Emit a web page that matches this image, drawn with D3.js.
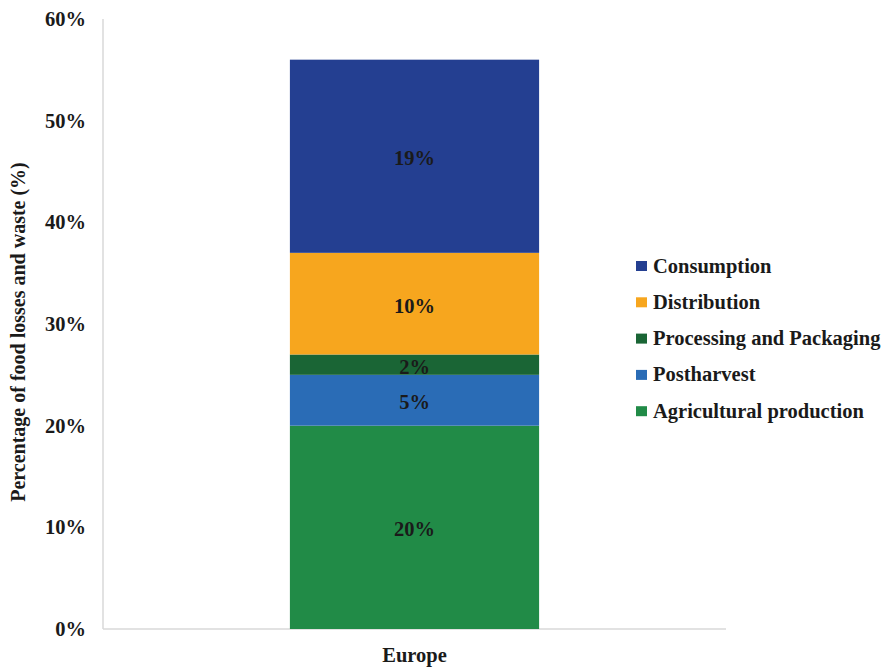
<!DOCTYPE html>
<html>
<head>
    <meta charset="UTF-8">
    <title>Food losses and waste - Europe</title>
    <style>
        body { margin: 0; background: #fff; }
        text { font-family: "Liberation Serif", "Times New Roman", serif; font-weight: bold; }
    </style>
</head>
<body>
    <script src="https://d3js.org/d3.v7.min.js"></script>
    <div id="chart"></div>

    <script type="text/javascript">
        const categories = ["Europe"];
        const stages = ["Agricultural production", "Postharvest", "Processing and Packaging", "Distribution", "Consumption"];
        const values = [20, 5, 2, 10, 19];
        const labels = ["20%", "5%", "2%", "10%", "19%"];
        const colors = ["#218b47", "#2a6cb6", "#1a6535", "#f7a61e", "#243f91"];
        const yTicks = [0, 10, 20, 30, 40, 50, 60];

        const width = 894, height = 667;
        const margin = { left: 103, right: 168, top: 19, bottom: 38 };
        const fs = 20.5;

        const svg = d3.select("#chart").append("svg")
            .attr("width", width)
            .attr("height", height);

        const x = d3.scaleBand()
            .domain(categories)
            .range([margin.left, width - margin.right])
            .paddingInner(0.6)
            .paddingOuter(0.3);

        const y = d3.scaleLinear()
            .domain([0, 60])
            .range([height - margin.bottom, margin.top]);

        // stacked segments
        var acc = 0;
        const segs = values.map((v, i) => {
            const s = { stage: stages[i], y0: acc, y1: acc + v, label: labels[i], color: colors[i] };
            acc += v;
            return s;
        });

        // axis lines
        svg.append("line")
            .attr("x1", margin.left).attr("x2", margin.left)
            .attr("y1", y(60)).attr("y2", y(0))
            .attr("stroke", "#d9d9d9").attr("stroke-width", 1.5);
        svg.append("line")
            .attr("x1", margin.left).attr("x2", width - margin.right)
            .attr("y1", y(0)).attr("y2", y(0))
            .attr("stroke", "#d9d9d9").attr("stroke-width", 1.5);

        const bw = x.bandwidth();
        const bx = x("Europe");

        svg.selectAll("rect.seg").data(segs).enter().append("rect")
            .attr("class", "seg")
            .attr("x", bx)
            .attr("width", bw)
            .attr("y", d => y(d.y1))
            .attr("height", d => y(d.y0) - y(d.y1))
            .attr("fill", d => d.color);

        svg.selectAll("text.lbl").data(segs).enter().append("text")
            .attr("class", "lbl")
            .attr("x", bx + bw / 2)
            .attr("y", d => (y(d.y0) + y(d.y1)) / 2 + 9)
            .attr("text-anchor", "middle")
            .attr("font-size", fs)
            .attr("fill", "#1a1a1a")
            .text(d => d.label);

        // y tick labels
        svg.selectAll("text.ytick").data(yTicks).enter().append("text")
            .attr("class", "ytick")
            .attr("x", 86)
            .attr("y", d => y(d) + 7)
            .attr("text-anchor", "end")
            .attr("font-size", fs)
            .attr("fill", "#1a1a1a")
            .text(d => d + "%");

        // x category label
        svg.selectAll("text.xcat").data(categories).enter().append("text")
            .attr("class", "xcat")
            .attr("x", d => x(d) + bw / 2)
            .attr("y", y(0) + 33)
            .attr("text-anchor", "middle")
            .attr("font-size", fs)
            .attr("fill", "#1a1a1a")
            .text(d => d);

        // y axis title
        svg.append("text")
            .attr("transform", "translate(25," + ((y(0) + y(60)) / 2 + 8) + ") rotate(-90)")
            .attr("text-anchor", "middle")
            .attr("font-size", 20)
            .attr("fill", "#1a1a1a")
            .text("Percentage of food losses and waste (%)");

        // legend, top item is the last stage
        const legendData = segs.slice().reverse();
        const lg = svg.selectAll("g.leg").data(legendData).enter().append("g")
            .attr("class", "leg")
            .attr("transform", (d, i) => "translate(636," + (266 + i * 36.3) + ")");
        lg.append("rect")
            .attr("x", 0).attr("y", -5)
            .attr("width", 11).attr("height", 10)
            .attr("fill", d => d.color);
        lg.append("text")
            .attr("x", 17)
            .attr("y", 6.5)
            .attr("font-size", fs)
            .attr("fill", "#1a1a1a")
            .text(d => d.stage);
    </script>
</body>
</html>
